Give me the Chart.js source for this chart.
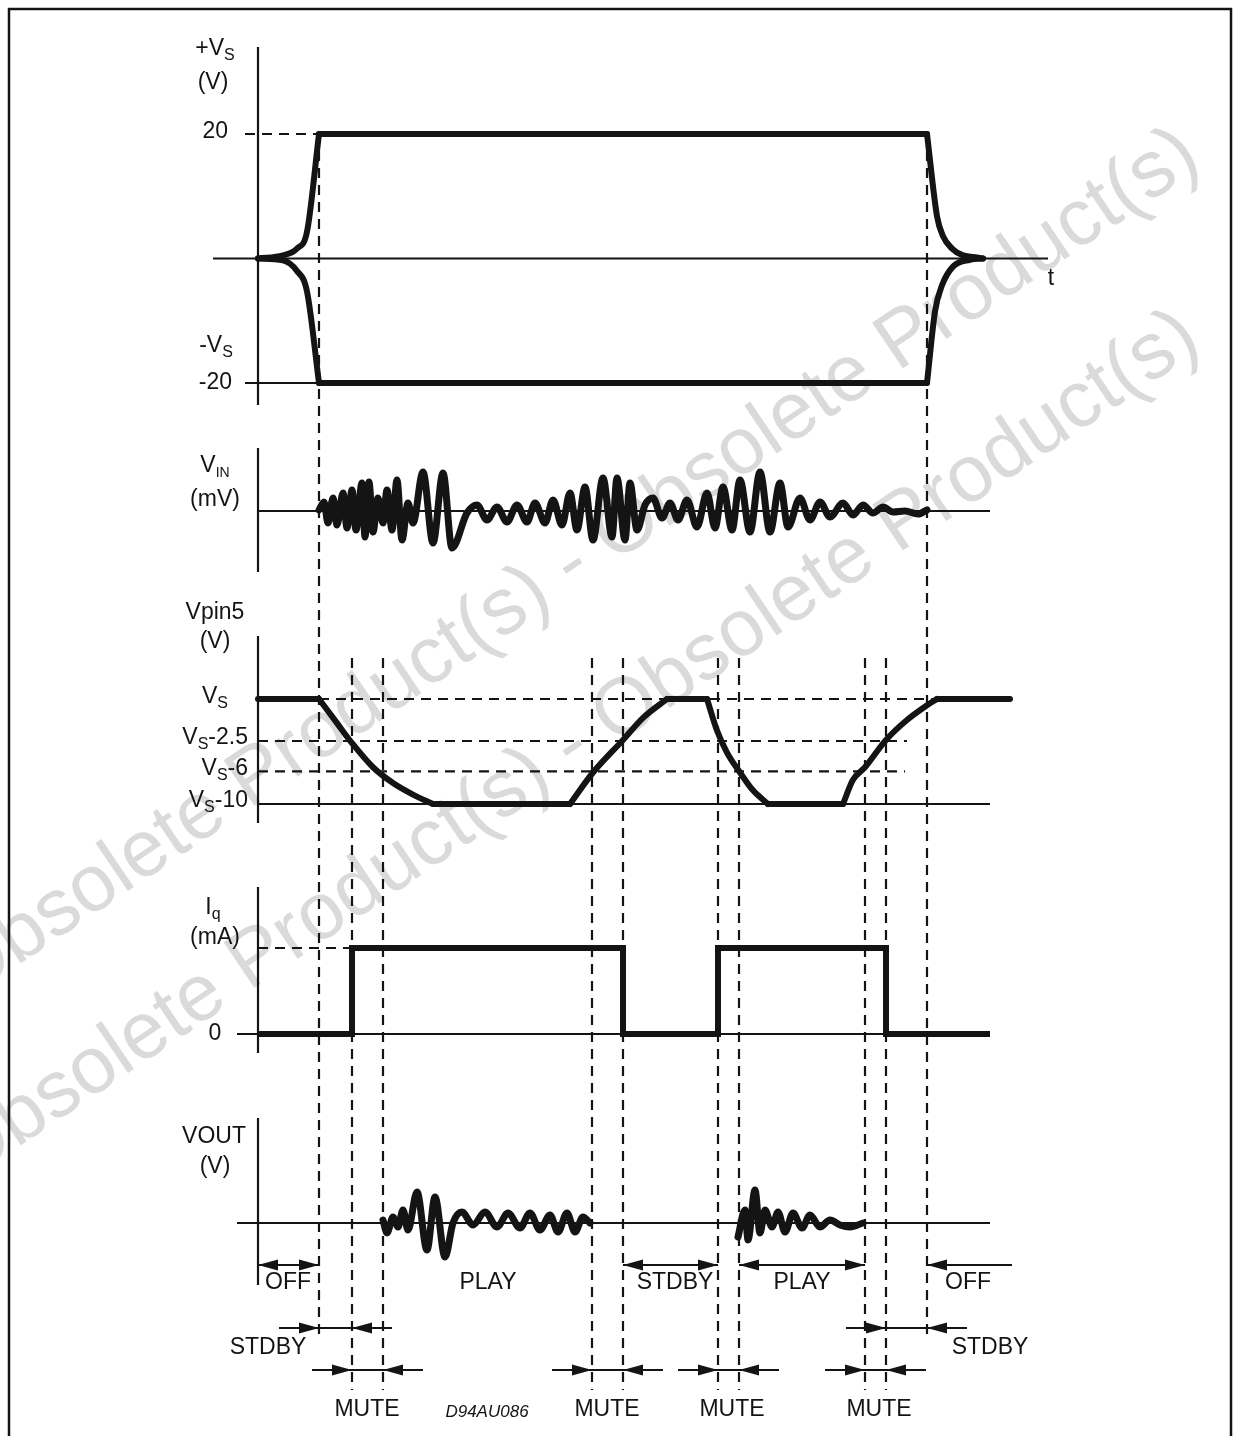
<!DOCTYPE html>
<html>
<head>
<meta charset="utf-8">
<script src="https://cdn.jsdelivr.net/npm/chart.js@4.4.0/dist/chart.umd.min.js"></script>
<style>
html, body { margin: 0; padding: 0; background: #fff; overflow: hidden; }
#wrap { position: relative; width: 1233px; height: 1436px; }
</style>
</head>
<body>
<div id="wrap"><canvas id="c"></canvas></div>
<script>
// time in arbitrary units, 0 = the vertical axes
const events = [6.1, 9.4, 12.5, 33.4, 36.5, 46.0, 48.1, 60.7, 62.8, 66.9]

// supply rails (V)
const vsPlusT = [0, 2.5, 3.9, 4.9, 6.1, 66.9, 67.9, 68.5, 69.4, 70.5, 71.9, 72.5]
const vsPlusV = [0, 0.5, 1.6, 4.3, 20, 20, 6.8, 3.6, 1.6, 0.5, 0.16, 0]
const vsMinusT = [0, 2.5, 3.9, 4.9, 6.1, 66.9, 67.7, 68.4, 69.5, 71.2, 72.5]
const vsMinusV = [0, -0.3, -2.0, -5.3, -20, -20, -8.5, -4.3, -1.3, -0.2, 0]

// input signal (mV)
const vinT = [6.1, 6.6, 7.0, 7.5, 7.9, 8.5, 8.9, 9.4, 9.8, 10.4,
  10.7, 11.1, 11.5, 12.0, 12.5, 12.9, 13.4, 13.9, 14.4, 15.0,
  15.5, 16.5, 17.5, 18.5, 19.4, 20.9, 21.9, 22.9, 23.9, 24.9,
  25.9, 26.9, 27.7, 28.7, 29.5, 30.4, 31.2, 31.9, 32.7, 33.5,
  34.5, 35.4, 35.9, 36.7, 37.2, 37.9, 38.7, 39.5, 40.4, 41.2,
  42.0, 42.9, 43.9, 44.9, 45.7, 46.5, 47.4, 48.2, 49.2, 50.2,
  51.2, 52.2, 53.0, 54.2, 55.2, 56.2, 57.2, 58.5, 59.5, 60.5,
  61.5, 62.5, 63.5, 64.7, 66.0, 66.9]
const vinV = [0.1, 0.9, -1.2, 1.3, -1.4, 1.8, -1.7, 2.1, -1.9, 2.8,
  -2.6, 2.9, -2.1, 1.3, -1.2, 2.1, -1.9, 3.1, -2.9, 0.8,
  -1.2, 3.9, -3.2, 3.8, -3.7, -0.2, 0.6, -0.9, 0.4, -1.1,
  0.6, -1.1, 0.8, -1.2, 1.1, -1.4, 1.8, -1.9, 2.4, -2.9,
  3.3, -2.6, 3.3, -2.9, 2.8, -1.9, 0.6, 1.3, -0.7, 0.8,
  -0.9, 1.1, -1.6, 1.8, -1.7, 2.4, -1.9, 3.1, -2.1, 3.9,
  -2.1, 2.8, -1.6, 1.3, -0.9, 0.9, -0.6, 0.8, -0.4, 0.6,
  -0.2, 0.4, -0.1, 0, -0.3, 0.1]

// pin 5 voltage, in steps below Vs (drawn positions of the levels)
const vpinLevels = [0, -4.0, -6.9, -10]
const vpinLabels = ['', '-2.5', '-6', '-10']
const vpinT = [0, 6.1, 7.9, 9.4, 11.5, 13.5, 15.5, 17.5,
  31.2, 33.5, 36.5, 38.5, 40.9,
  44.9, 45.9, 46.9, 48.2, 49.5, 51.0,
  58.5, 59.5, 60.7, 62.8, 64.9, 66.9, 67.9, 75.2]
const vpinV = [0, 0, -2.3, -4.2, -6.5, -8.0, -9.1, -10,
  -10, -7.0, -3.9, -1.8, 0,
  0, -3.0, -5.1, -7.0, -8.7, -10,
  -10, -7.7, -6.5, -3.9, -2.0, -0.6, 0, 0]

// quiescent current (low / high)
const iqT = [0, 9.4, 9.4, 36.5, 36.5, 46.0, 46.0, 62.8, 62.8, 73.2]
const iqV = [0, 0, 1, 1, 0, 0, 1, 1, 0, 0]

// output signal (V)
const vout1T = [12.5, 12.9, 13.5, 14.0, 14.5, 15.0, 15.9, 16.9, 17.7, 18.7,
  19.5, 20.4, 21.5, 22.7, 23.9, 25.0, 26.2, 27.2, 28.2, 29.2,
  30.0, 30.9, 31.7, 32.5, 33.2]
const vout1V = [0.3, -1.0, 0.6, -0.4, 1.3, -0.7, 3.1, -2.7, 2.6, -3.4,
  0, 1.1, -0.2, 1.1, -0.4, 1.0, -0.5, 1.0, -0.7, 0.8,
  -0.9, 1.0, -0.9, 0.6, 0]
const vout2T = [48.0, 48.7, 49.0, 49.7, 50.2, 50.7, 51.4, 52.0, 52.7, 53.5,
  54.4, 55.2, 56.2, 57.2, 58.2, 59.2, 60.5]
const vout2V = [-1.4, 1.3, -1.7, 3.3, -1.0, 1.3, -0.4, 1.1, -0.9, 1.0,
  -0.5, 0.8, -0.4, 0.3, -0.2, -0.4, 0]

// operating states along the bottom
const stateNames = ['OFF', 'PLAY', 'STDBY', 'PLAY', 'OFF', 'STDBY', 'STDBY', 'MUTE', 'MUTE', 'MUTE', 'MUTE']
const stateStart = [0, 12.5, 36.5, 48.1, 66.9, 6.1, 62.8, 9.4, 33.4, 46.0, 60.7]
const stateEnd = [6.1, 33.4, 46.0, 60.7, 75.4, 9.4, 66.9, 12.5, 36.5, 48.1, 62.8]
const stateLabelT = [3.0, 23.0, 41.7, 54.4, 71.0, 1.0, 73.2, 10.9, 34.9, 47.4, 62.1]
const stateRow = [0, 0, 0, 0, 0, 1, 1, 2, 2, 2, 2]
const stateArrow = ['out', 'none', 'out', 'out', 'left', 'in', 'in', 'in', 'in', 'in', 'in']

const WATERMARK = 'Obsolete Product(s) - Obsolete Product(s)'

// ---- layout (pixels) ----
const W = 1233, H = 1436
const INK = '#141414'
const FONT = px => px + 'px "Liberation Sans", Arial, Helvetica, sans-serif'
const DASH = [10, 7]
const layout = {
  axes: [[47, 405], [448, 572], [636, 823], [887, 1053], [1118, 1285]],
  eventTopInner: 658, eventBottomOuter: 1338, eventBottomInner: 1390,
  rowArrowY: [1265, 1328, 1370], rowLabelY: [1283, 1348, 1410],
  watermark: [{x: -35, y: 1001}, {x: -35, y: 1183}], watermarkAngle: -34
}

// map a value range onto a pixel band; the axis itself spans the whole canvas
function fit(v1, p1, v2, p2) {
  const s = (v1 - v2) / (p2 - p1)
  return { min: v1 - (H - p1) * s, max: v1 + p1 * s }
}
const yAxis = (v1, p1, v2, p2) => ({ type: 'linear', display: false, bounds: 'data', ...fit(v1, p1, v2, p2) })

const guides = [
  {axis: 'y1', v: 0, from: -4.5, to: 79.0},
  {axis: 'y1', v: -20, from: -1.3, to: 6.1},
  {axis: 'y1', v: 20, from: -1.3, to: 6.1, dash: true},
  {axis: 'y2', v: 0, from: 0, to: 73.2},
  {axis: 'y3', v: -10, from: 0, to: 73.2},
  {axis: 'y3', v: 0, from: 6.1, to: 67.9, dash: true},
  {axis: 'y3', v: -4.0, from: 0, to: 64.9, dash: true},
  {axis: 'y3', v: -6.9, from: 0, to: 64.7, dash: true},
  {axis: 'y4', v: 0, from: -2.1, to: 73.2},
  {axis: 'y4', v: 1, from: 0, to: 9.4, dash: true},
  {axis: 'y5', v: 0, from: -2.1, to: 73.2}
]

function series(xs, ys, axis, extra) {
  return Object.assign({
    data: xs.map((x, i) => ({ x, y: ys[i] })),
    yAxisID: axis,
    borderColor: INK,
    borderWidth: 6,
    pointRadius: 0,
    fill: false,
    cubicInterpolationMode: 'monotone',
    borderCapStyle: 'round',
    borderJoinStyle: 'round'
  }, extra || {})
}
const straight = { cubicInterpolationMode: 'default', tension: 0 }

// split a trace into flat runs (straight) and moving runs (smooth) so corners stay sharp
function traced(xs, ys, axis) {
  const runs = []
  for (let i = 1; i < xs.length; i++) {
    const flat = ys[i] === ys[i - 1]
    const last = runs[runs.length - 1]
    if (last && last.flat === flat) last.to = i
    else runs.push({ from: i - 1, to: i, flat })
  }
  return runs.map(r => series(xs.slice(r.from, r.to + 1), ys.slice(r.from, r.to + 1), axis, r.flat ? straight : {}))
}

function seg(ctx, x1, y1, x2, y2) {
  ctx.beginPath(); ctx.moveTo(x1, y1); ctx.lineTo(x2, y2); ctx.stroke()
}

function head(ctx, tip, y, dir) {
  ctx.beginPath()
  ctx.moveTo(tip, y)
  ctx.lineTo(tip - dir * 20, y - 5.5)
  ctx.lineTo(tip - dir * 20, y + 5.5)
  ctx.closePath()
  ctx.fill()
}

// text with subscripts: parts beginning with '_' are subscript
function rich(ctx, parts, x, y, align, sub) {
  const big = FONT(23), small = FONT(sub || 16)
  let w = 0
  for (const p of parts) { ctx.font = p[0] === '_' ? small : big; w += ctx.measureText(p.replace(/^_/, '')).width }
  let cx = align === 'right' ? x - w : align === 'left' ? x : x - w / 2
  ctx.textAlign = 'left'
  ctx.textBaseline = 'middle'
  for (const p of parts) {
    const isSub = p[0] === '_'
    const t = p.replace(/^_/, '')
    ctx.font = isSub ? small : big
    ctx.fillText(t, cx, isSub ? y + 7 : y)
    cx += ctx.measureText(t).width
  }
}

const sheet = {
  id: 'sheet',
  beforeDatasetsDraw(chart) {
    const { ctx } = chart
    const X = v => chart.scales.x.getPixelForValue(v)
    const Y = (id, v) => chart.scales[id].getPixelForValue(v)
    ctx.save()
    // watermark
    ctx.fillStyle = '#dadada'
    ctx.font = FONT(80)
    ctx.textBaseline = 'alphabetic'
    ctx.textAlign = 'left'
    for (const w of layout.watermark) {
      ctx.save()
      ctx.translate(w.x, w.y)
      ctx.rotate(layout.watermarkAngle * Math.PI / 180)
      ctx.fillText(WATERMARK, 0, 0)
      ctx.restore()
    }
    // frame
    ctx.strokeStyle = INK
    ctx.lineWidth = 2.5
    ctx.strokeRect(9, 9, W - 11, H + 20)
    // axes and reference levels
    ctx.lineWidth = 2.2
    for (const [a, b] of layout.axes) seg(ctx, X(0), a, X(0), b)
    for (const g of guides) {
      ctx.setLineDash(g.dash ? DASH : [])
      const y = Y(g.axis, g.v)
      seg(ctx, X(g.from), y, X(g.to), y)
    }
    // event markers
    ctx.setLineDash(DASH)
    events.forEach((t, i) => {
      const outer = i === 0 || i === events.length - 1
      const top = outer ? Y('y1', 20) : layout.eventTopInner
      const bottom = outer ? layout.eventBottomOuter : layout.eventBottomInner
      seg(ctx, X(t), top, X(t), bottom)
    })
    ctx.restore()
  },
  afterDatasetsDraw(chart) {
    const { ctx } = chart
    const X = v => chart.scales.x.getPixelForValue(v)
    const Y = (id, v) => chart.scales[id].getPixelForValue(v)
    ctx.save()
    ctx.fillStyle = INK
    ctx.strokeStyle = INK
    // axis titles and ticks
    rich(ctx, ['+V', '_S'], 215, 49)
    rich(ctx, ['(V)'], 213, 83)
    rich(ctx, ['20'], 228, Y('y1', 20) - 2, 'right')
    rich(ctx, ['-V', '_S'], 216, 346)
    rich(ctx, ['-20'], 232, Y('y1', -20), 'right')
    rich(ctx, ['t'], 1051, 279)
    rich(ctx, ['V', '_IN'], 215, 466, 'center', 14)
    rich(ctx, ['(mV)'], 215, 500)
    rich(ctx, ['Vpin5'], 215, 613)
    rich(ctx, ['(V)'], 215, 642)
    vpinLevels.forEach((lv, i) => {
      const y = Y('y3', lv)
      if (i === 0) rich(ctx, ['V', '_S'], 215, y - 2)
      else rich(ctx, ['V', '_S', vpinLabels[i]], 248, y - 3, 'right')
    })
    rich(ctx, ['I', '_q'], 213, 908)
    rich(ctx, ['(mA)'], 215, 938)
    rich(ctx, ['0'], 215, Y('y4', 0))
    rich(ctx, ['VOUT'], 214, 1137)
    rich(ctx, ['(V)'], 215, 1167)

    // state arrows
    ctx.lineWidth = 2
    ctx.setLineDash([])
    stateNames.forEach((name, i) => {
      const y = layout.rowArrowY[stateRow[i]]
      const a = X(stateStart[i]), b = X(stateEnd[i])
      const kind = stateArrow[i]
      if (kind === 'out') { seg(ctx, a, y, b, y); head(ctx, a, y, -1); head(ctx, b, y, 1) }
      if (kind === 'left') { seg(ctx, a, y, b, y); head(ctx, a, y, -1) }
      if (kind === 'in') { seg(ctx, a - 40, y, b + 40, y); head(ctx, a, y, 1); head(ctx, b, y, -1) }
      rich(ctx, [name], X(stateLabelT[i]), layout.rowLabelY[stateRow[i]])
    })
    ctx.font = 'italic ' + FONT(17)
    ctx.textAlign = 'center'
    ctx.textBaseline = 'middle'
    ctx.fillText('D94AU086', 487, 1412)
    ctx.restore()
  }
}

new Chart(document.getElementById('c'), {
  type: 'line',
  data: {
    datasets: [
      ...traced(vsPlusT, vsPlusV, 'y1'),
      ...traced(vsMinusT, vsMinusV, 'y1'),
      series(vinT, vinV, 'y2', { borderWidth: 7 }),
      ...traced(vpinT, vpinV, 'y3'),
      series(iqT, iqV, 'y4', Object.assign({ borderCapStyle: 'butt', borderJoinStyle: 'miter' }, straight)),
      series(vout1T, vout1V, 'y5', { borderWidth: 7 }),
      series(vout2T, vout2V, 'y5', { borderWidth: 7 })
    ]
  },
  options: {
    responsive: true,
    maintainAspectRatio: false,
    animation: false,
    events: [],
    layout: { padding: 0 },
    plugins: { legend: { display: false }, tooltip: { enabled: false } },
    scales: {
      x: { type: 'linear', display: false, bounds: 'data', min: -25.8, max: 97.5 },
      y1: yAxis(20, 134, -20, 383),
      y2: yAxis(5, 461, -5, 561),
      y3: yAxis(0, 699, -10, 804),
      y4: yAxis(1, 948, 0, 1034),
      y5: yAxis(5, 1173, -5, 1273)
    }
  },
  plugins: [sheet]
})
</script>
</body>
</html>
